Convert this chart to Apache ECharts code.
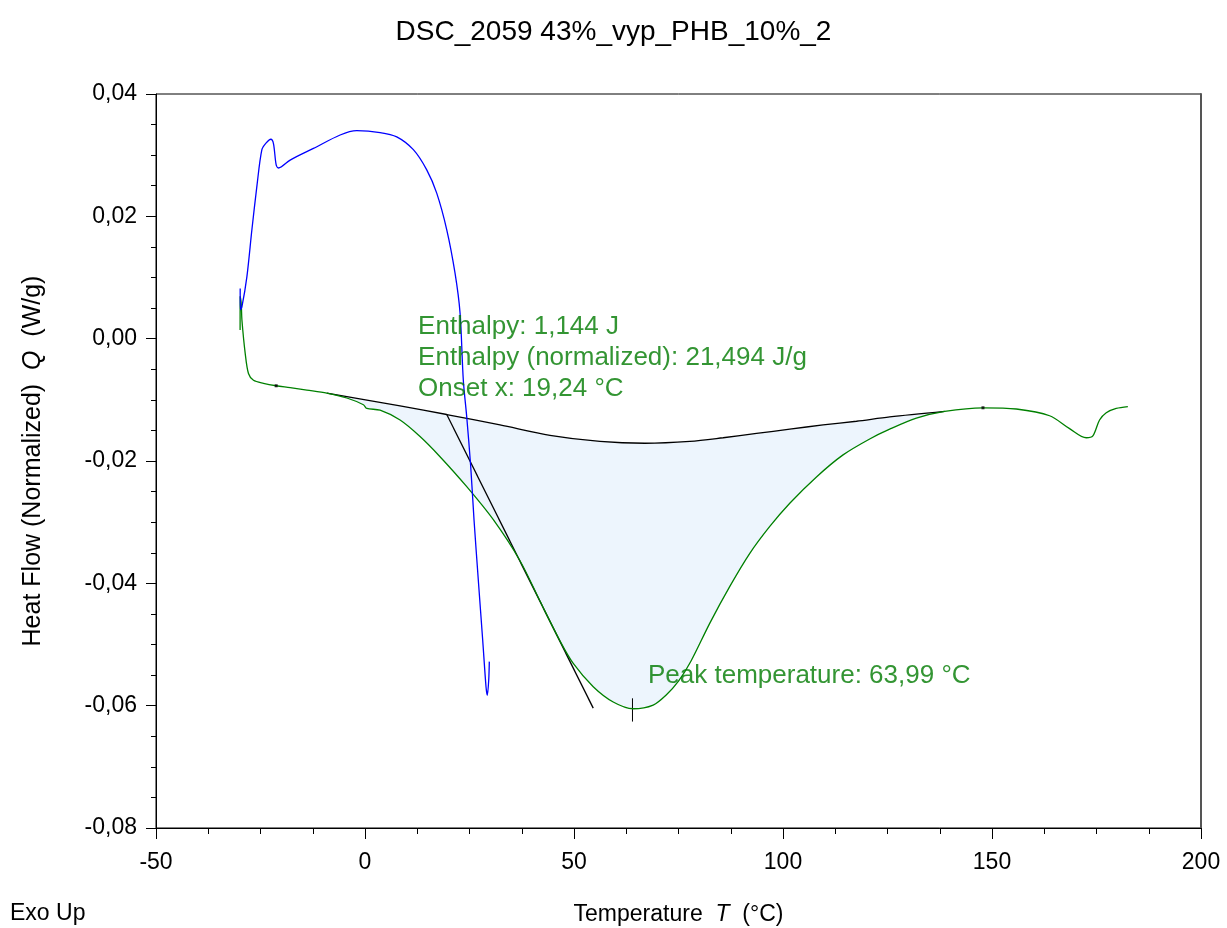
<!DOCTYPE html>
<html>
<head>
<meta charset="utf-8">
<title>DSC_2059</title>
<style>
  html, body, #chart { margin: 0; padding: 0; width: 1227px; height: 928px; background: #fff; }
</style>
</head>
<body>
<div id="chart"></div>
<script src="https://cdn.jsdelivr.net/npm/echarts@6/dist/echarts.min.js"></script>
<script>
// DSC curves: [temperature °C, heat flow W/g]
var blueCurve = [
  [-29.86, 0.0082], [-29.84, 0.0047], [-29.45, 0.0052], [-28.26, 0.0101], [-27.06, 0.0178],
  [-25.87, 0.0249], [-24.67, 0.0309], [-23.64, 0.0320], [-22.52, 0.0326], [-21.90, 0.0319],
  [-21.25, 0.0284], [-20.70, 0.0279], [-17.91, 0.0292], [-12.34, 0.0311], [-5.95, 0.0333],
  [-1.96, 0.0340], [3.61, 0.0337], [7.60, 0.0330], [11.57, 0.0309], [14.77, 0.0276],
  [17.16, 0.0238], [19.56, 0.0178], [21.54, 0.0107], [22.74, 0.0042], [23.52, -0.0068],
  [24.34, -0.0128], [25.29, -0.0209], [26.08, -0.0296], [27.11, -0.0395], [28.16, -0.0493],
  [28.95, -0.0569], [29.26, -0.0583], [29.60, -0.0558], [29.74, -0.0528]
];

var greenCurve = [
  [-29.88, 0.0014], [-29.86, 0.0069], [-29.6, 0.0056], [-29.45, 0.0031], [-28.66, -0.0024],
  [-27.88, -0.0057], [-26.68, -0.0068], [-24.29, -0.0073], [-21.25, -0.0077], [-17.91, -0.0080],
  [-13.91, -0.0084], [-9.13, -0.0089], [-4.35, -0.0097], [-0.38, -0.0108], [0.43, -0.0114],
  [3.61, -0.0117], [8.39, -0.0133], [13.17, -0.0160], [17.95, -0.0193], [24.34, -0.0242],
  [30.70, -0.0296], [37.08, -0.0363], [41.86, -0.0429], [46.64, -0.0494], [49.82, -0.0531],
  [54.60, -0.0569], [59.38, -0.0594], [64.16, -0.0605], [68.95, -0.0599], [72.00, -0.0583],
  [75.00, -0.0560], [78.00, -0.0527], [82.50, -0.0465], [87.28, -0.0405], [92.06, -0.0351],
  [96.84, -0.0307], [101.62, -0.0269], [108.01, -0.0226], [114.37, -0.0190], [120.74, -0.0164],
  [125.52, -0.0148], [131.91, -0.0130], [138.68, -0.0119], [147.84, -0.0113], [155.82, -0.0115],
  [163.78, -0.0126], [168.56, -0.0147], [172.55, -0.0162], [174.13, -0.0159], [175.73, -0.0133],
  [177.33, -0.0121], [179.72, -0.0114], [182.50, -0.0111]
];

var baseline = [
  [-9.13, -0.0089], [8.39, -0.0110], [19.56, -0.0124], [32.30, -0.0141], [44.25, -0.0158],
  [56.21, -0.0168], [66.96, -0.0171], [77.72, -0.0168], [85.68, -0.0162], [93.67, -0.0155],
  [101.63, -0.0148], [109.59, -0.0141], [117.57, -0.0135], [125.53, -0.0128], [138.68, -0.0119]
];

var onsetTangent = [[19.56, -0.0124], [54.60, -0.0604]];
var peakTick = [[63.99, -0.0588], [63.99, -0.0626]];
var limitMarks = [[-21.25, -0.0077], [147.84, -0.0113]];

var infoText = ['Enthalpy: 1,144 J', 'Enthalpy (normalized): 21,494 J/g', 'Onset x: 19,24 °C'];
var infoAnchor = [12.7, -0.0032];
var peakText = 'Peak temperature: 63,99 °C';
var peakAnchor = [67.7, -0.0551];

var FONT = "'Liberation Sans', Arial, sans-serif";
var GREEN = '#007a00';

// integration area: green curve between baseline ends, closed along the baseline
var areaFrom = baseline[0][0], areaTo = baseline[baseline.length - 1][0];
var areaPoly = greenCurve.filter(function (p) { return p[0] >= areaFrom && p[0] <= areaTo; })
  .concat(baseline.slice().reverse());

var chart = echarts.init(document.getElementById('chart'));

function yFmt(v) {
  if (Math.abs(v) < 1e-9) v = 0;
  return v.toFixed(2).replace('.', ',');
}

function richName(size) {
  return {
    rich: {
      a: { fontFamily: FONT, fontSize: size, color: '#000' },
      i: { fontFamily: FONT, fontSize: size, fontStyle: 'italic', color: '#000' }
    }
  };
}

chart.setOption({
  animation: false,
  title: {
    text: 'DSC_2059 43%_vyp_PHB_10%_2',
    left: 'center',
    top: 13,
    textStyle: { fontFamily: FONT, fontSize: 28, fontWeight: 'normal', color: '#000' }
  },
  grid: {
    left: 156, right: 26, top: 94, bottom: 100,
    containLabel: false,
    outerBoundsMode: 'none',
    show: true, borderColor: '#000', borderWidth: 1
  },
  xAxis: {
    type: 'value',
    min: -50, max: 200, interval: 50,
    name: '{a|Temperature  }{i|T}{a|  (°C)}',
    nameLocation: 'middle',
    nameGap: 75,
    nameTextStyle: richName(23),
    axisLine: { onZero: false, lineStyle: { color: '#000', width: 1 } },
    axisTick: { inside: false, length: 11, lineStyle: { color: '#000' } },
    minorTick: { show: true, splitNumber: 4, length: 6, lineStyle: { color: '#000' } },
    splitLine: { show: false },
    axisLabel: { fontFamily: FONT, fontSize: 23, color: '#000', margin: 23 }
  },
  yAxis: [{
    type: 'value',
    min: -0.08, max: 0.04, interval: 0.02,
    name: '{a|Heat Flow (Normalized)  }{i|Q}{a|  (W/g)}',
    nameLocation: 'middle',
    nameGap: 110,
    nameRotate: 90,
    nameTextStyle: richName(25),
    axisLine: { show: true, onZero: false, lineStyle: { color: '#000', width: 1 } },
    axisTick: { show: true, inside: false, length: 10, lineStyle: { color: '#000' } },
    minorTick: { show: true, splitNumber: 4, length: 5, lineStyle: { color: '#000' } },
    splitLine: { show: false },
    axisLabel: { fontFamily: FONT, fontSize: 23, color: '#000', margin: 19, formatter: yFmt }
  }, {
    // right frame edge, drawn a bit heavier and grey as in the original
    type: 'value', position: 'right',
    min: -0.08, max: 0.04,
    axisLine: { show: true, onZero: false, lineStyle: { color: '#555', width: 2 } },
    axisTick: { show: false }, axisLabel: { show: false }, splitLine: { show: false }
  }],
  graphic: [{
    type: 'text', left: 10, top: 902,
    style: { text: 'Exo Up', font: '23px ' + FONT, fill: '#000' }
  }],
  series: [
    {
      type: 'custom',
      z: 1,
      silent: true,
      data: [0],
      renderItem: function (params, api) {
        var pts = areaPoly.map(function (p) { return api.coord(p); });
        return { type: 'polygon', shape: { points: pts }, style: { fill: '#edf5fd', stroke: null } };
      }
    },
    {
      type: 'line', data: baseline, smooth: 0.3, showSymbol: false, z: 3,
      lineStyle: { color: '#000', width: 1.3 }
    },
    {
      type: 'line', data: onsetTangent, showSymbol: false, z: 3,
      lineStyle: { color: '#000', width: 1.3 }
    },
    {
      type: 'line', data: peakTick, showSymbol: false, z: 3,
      lineStyle: { color: '#000', width: 1 }
    },
    {
      type: 'line', data: greenCurve, smooth: 0.3, showSymbol: false, z: 4,
      lineStyle: { color: '#008000', width: 1.3 }
    },
    {
      type: 'line', data: blueCurve, smooth: 0.3, showSymbol: false, z: 5,
      lineStyle: { color: '#0000ff', width: 1.3 }
    },
    {
      type: 'scatter', data: limitMarks, symbol: 'rect', symbolSize: 3, z: 6,
      itemStyle: { color: '#000' }
    },
    {
      type: 'scatter', symbolSize: 0, z: 7, silent: true,
      data: [
        { value: infoAnchor, label: { formatter: infoText.join('\n') } },
        { value: peakAnchor, label: { formatter: peakText } }
      ],
      label: {
        show: true, position: 'right', distance: 0,
        fontFamily: FONT, fontSize: 26, lineHeight: 31, color: GREEN
      }
    }
  ]
});
</script>
</body>
</html>
